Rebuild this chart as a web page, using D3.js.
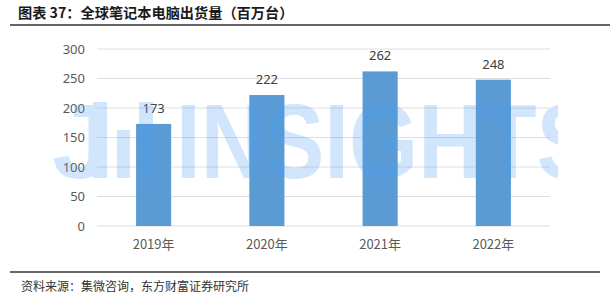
<!DOCTYPE html>
<html>
<head>
<meta charset="utf-8">
<script src="https://cdn.jsdelivr.net/npm/d3@7"></script>
<style>
  body { margin: 0; background: #fff; }
  svg text { font-family: "Noto Sans CJK SC", "Noto Sans", sans-serif; }
</style>
</head>
<body>
<div id="chart"></div>
<script>
// data
const years = ["2019年", "2020年", "2021年", "2022年"];
const shipments = [173, 222, 262, 248];
const yTicks = [0, 50, 100, 150, 200, 250, 300];

const titleText = "图表 37：全球笔记本电脑出货量（百万台）";
const sourceText = "资料来源：集微咨询，东方财富证券研究所";

const width = 614, height = 304;
const plot = {left: 97, right: 550, top: 49, bottom: 226};

const svg = d3.select("#chart").append("svg")
    .attr("width", width)
    .attr("height", height);

// title + rule
svg.append("text")
    .attr("x", 18)
    .attr("y", 18)
    .attr("font-size", 14.2)
    .attr("font-weight", "bold")
    .attr("fill", "#1a1a1a")
    .text(titleText);

svg.append("line")
    .attr("x1", 10).attr("x2", 610)
    .attr("y1", 25).attr("y2", 25)
    .attr("stroke", "#333").attr("stroke-width", 1.3);

// scales
const x = d3.scaleBand()
    .domain(years)
    .range([plot.left, plot.right])
    .paddingInner(0.69)
    .paddingOuter(0.345);

const y = d3.scaleLinear()
    .domain([0, 300])
    .range([plot.bottom, plot.top]);

// gridlines
svg.append("g").selectAll("line")
    .data(yTicks)
    .join("line")
    .attr("x1", plot.left).attr("x2", plot.right)
    .attr("y1", d => y(d)).attr("y2", d => y(d))
    .attr("stroke", "#dedede").attr("stroke-width", 1);

// y axis labels
const yAxis = svg.append("g")
    .attr("transform", "translate(" + (plot.left - 12) + ",0)")
    .call(d3.axisLeft(y).tickValues(yTicks).tickSize(0).tickPadding(0));
yAxis.select(".domain").remove();
yAxis.selectAll("text")
    .attr("font-size", 13)
    .attr("fill", "#595959")
    .style("font-family", "'Noto Sans', sans-serif");

// x axis labels
const xAxis = svg.append("g")
    .attr("transform", "translate(0," + plot.bottom + ")")
    .call(d3.axisBottom(x).tickSize(0).tickPadding(14));
xAxis.select(".domain").remove();
xAxis.selectAll("text")
    .attr("font-size", 13)
    .attr("fill", "#595959");

// bars
svg.append("g").selectAll("rect")
    .data(shipments)
    .join("rect")
    .attr("x", (d, i) => x(years[i]))
    .attr("y", d => y(d))
    .attr("width", x.bandwidth())
    .attr("height", d => y(0) - y(d))
    .attr("fill", "#5b9bd5");

// value labels
svg.append("g").selectAll("text")
    .data(shipments)
    .join("text")
    .attr("x", (d, i) => x(years[i]) + x.bandwidth() / 2)
    .attr("y", d => y(d) - 11)
    .attr("text-anchor", "middle")
    .attr("font-size", 13)
    .attr("fill", "#404040")
    .style("font-family", "'Noto Sans', sans-serif")
    .text(d => d);

// watermark (JW INSIGHTS), clipped on the right like the original
svg.append("defs").append("clipPath").attr("id", "wmclip")
    .append("rect").attr("x", 0).attr("y", 0).attr("width", 558).attr("height", height);

const wm = svg.append("g")
    .attr("clip-path", "url(#wmclip)")
    .attr("fill", "#4a9ff5")
    .attr("opacity", 0.25);

wm.append("text")
    .attr("x", 52)
    .attr("y", 178)
    .attr("font-size", 106)
    .attr("font-weight", "bold")
    .style("font-family", "'Liberation Sans', Arial, sans-serif")
    .text("J");

// logo bars
[[93, 102, 14, 76], [117, 130, 13, 48], [139, 102, 14, 76]].forEach(b => {
    wm.append("rect").attr("x", b[0]).attr("y", b[1]).attr("width", b[2]).attr("height", b[3]);
});

wm.append("text")
    .attr("x", 176)
    .attr("y", 178)
    .attr("font-size", 106)
    .attr("font-weight", "bold")
    .attr("textLength", 420)
    .attr("lengthAdjust", "spacingAndGlyphs")
    .style("font-family", "'Liberation Sans', Arial, sans-serif")
    .text("INSIGHTS");

// footer
svg.append("line")
    .attr("x1", 10).attr("x2", 600)
    .attr("y1", 272).attr("y2", 272)
    .attr("stroke", "#333").attr("stroke-width", 1.3);

svg.append("text")
    .attr("x", 21)
    .attr("y", 291)
    .attr("font-size", 12)
    .attr("fill", "#333")
    .text(sourceText);
</script>
</body>
</html>
